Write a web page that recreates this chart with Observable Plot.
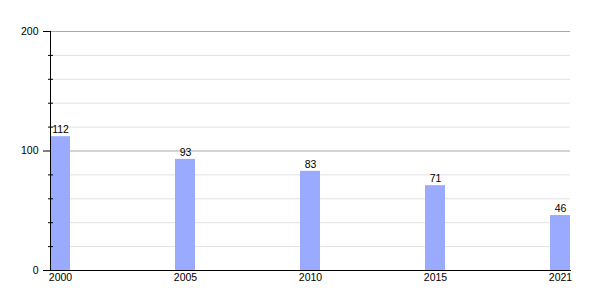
<!DOCTYPE html>
<html><head><meta charset="utf-8">
<script src="https://cdn.jsdelivr.net/npm/d3@7"></script>
<script src="https://cdn.jsdelivr.net/npm/@observablehq/plot@0.6"></script>
<style>body{margin:0;background:#fff}</style>
</head><body><div id="c"></div><script>
const years = ["2000", "2005", "2010", "2015", "2021"];
const values = [112, 93, 83, 71, 46];
const majorTicks = [0, 100, 200];
const minorTicks = [20, 40, 60, 80, 120, 140, 160, 180];
const data = years.map((y, i) => ({year: y, value: values[i]}));
const chart = Plot.plot({
  width: 600, height: 300,
  marginLeft: 50, marginRight: 30, marginTop: 31, marginBottom: 30,
  style: {fontSize: "10.5px", fontFamily: "'Liberation Sans', Arial, sans-serif", background: "#fff", color: "#000", overflow: "visible"},
  x: {domain: years, paddingInner: 0.84, paddingOuter: 0, label: null},
  y: {domain: [0, 200], label: null},
  marks: [
    Plot.ruleY(minorTicks, {stroke: "#e2e2e2"}),
    Plot.ruleY([100, 200], {stroke: "#aaaaaa"}),
    Plot.barY(data, {x: "year", y: "value", fill: "#9aabff"}),
    Plot.text(data, {x: "year", y: "value", text: d => String(d.value), dy: -7, fill: "#000"}),
    Plot.axisY({ticks: majorTicks, tickSize: 7, tickPadding: 5, label: null}),
    Plot.axisY({ticks: minorTicks, tickSize: 2, text: null, label: null}),
    Plot.axisY({ticks: minorTicks, tickSize: -3, text: null, label: null}),
    Plot.axisX({tickSize: 0, tickPadding: 3, label: null}),
    Plot.frame({anchor: "left", stroke: "#000"}),
    Plot.frame({anchor: "bottom", stroke: "#000"})
  ]
});
document.getElementById("c").appendChild(chart);
</script></body></html>
